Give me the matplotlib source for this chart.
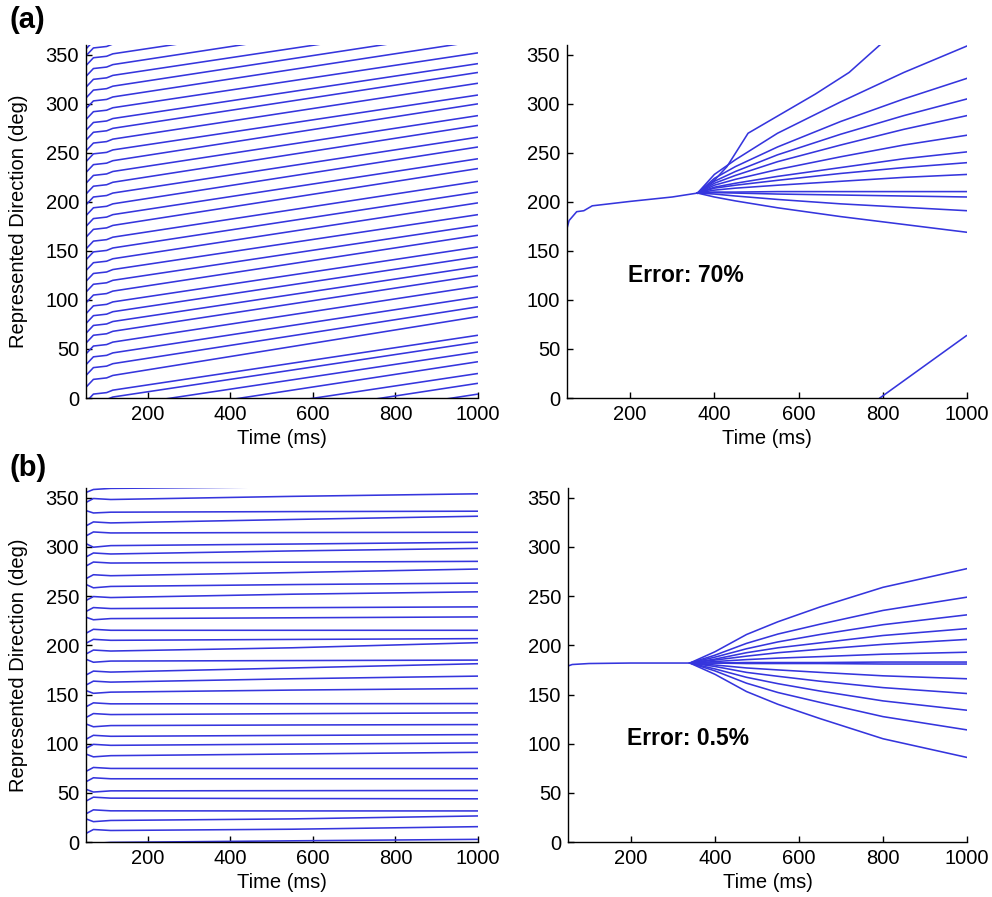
import numpy as np
import matplotlib
matplotlib.use("Agg")
import matplotlib.pyplot as plt

plt.rcParams['font.family'] = ['Liberation Sans', 'DejaVu Sans']

LINE_COLOR = '#3535dd'

# ---------------- Panel (a), left: drifting bump positions (unwrapped deg) ----------------
TL_TIMES = [50, 68, 100, 115, 1000]
TL_LINES = [
    [-4, 4, 5.5, 8, 64], [11, 19, 20.5, 23, 83], [23, 31, 32.5, 35, 93],
    [34, 42, 43.5, 46, 103], [45, 53, 54.5, 57, 114], [56, 64, 65.5, 68, 125],
    [66, 74, 75.5, 78, 134], [76, 84, 85.5, 88, 144], [86, 94, 95.5, 98, 154],
    [97, 105, 106.5, 109, 166], [108, 116, 117.5, 120, 176], [119, 127, 128.5, 131, 187],
    [130, 138, 139.5, 142, 199], [141, 149, 150.5, 153, 210], [152, 160, 161.5, 164, 221],
    [164, 172, 173.5, 176, 234], [175, 183, 184.5, 187, 244], [186, 194, 195.5, 198, 256],
    [197, 205, 206.5, 209, 266], [208, 216, 217.5, 220, 278], [219, 227, 228.5, 231, 288],
    [230, 238, 239.5, 242, 300], [241, 249, 250.5, 253, 309], [252, 260, 261.5, 264, 321],
    [263, 271, 272.5, 275, 332], [273, 281, 282.5, 285, 341], [284, 292, 293.5, 296, 352],
    [295, 303, 304.5, 307, 364], [306, 314, 315.5, 318, 375], [317, 325, 326.5, 329, 385],
    [328, 336, 337.5, 340, 397], [339, 347, 348.5, 351, 407], [349, 357, 358.5, 361, 417],
]

# ---------------- Panel (a), right: trunk then branches ----------------
TR_TRUNK_T = [50, 55, 73, 90, 110, 200, 300, 360]
TR_TRUNK_Y = [173, 181, 190, 191, 196, 200.5, 205, 209]
TR_TOP_T = [360, 400, 430, 480, 520, 640, 720, 793, 1000]
TR_TOP_Y = [209, 222, 236, 270, 280, 310, 332, 360, 424]
TR_BR_T = [360, 400, 450, 550, 700, 850, 1000]
TR_BRANCHES = [
    [209, 228, 243, 270, 302, 332, 359],
    [209, 224, 236, 256, 282, 305, 326],
    [209, 221, 231, 248, 269, 288, 305],
    [209, 219, 227, 241, 258, 274, 288],
    [209, 217, 223, 233, 246, 258, 268],
    [209, 215, 219, 226, 235, 244, 251],
    [209, 214, 217, 222, 229, 235, 240],
    [209, 212, 214, 217, 221, 225, 228],
    [209, 210, 210, 210.5, 210.5, 210.5, 210.5],
    [209, 209.5, 209, 208, 207, 206, 205],
    [209, 208, 206, 202.5, 198, 194.5, 191],
    [209, 205, 201, 194, 185, 177, 169],
]
TR_TEXT = "Error: 70%"

# ---------------- Panel (b), left: nearly stationary bumps ----------------
BL_TIMES = [50, 68, 110, 550, 1000]
BL_LINES = [
    [355.5, 358.5, 359.6, 361.2, 362.7],
    [345.3, 349.3, 348.3, 351.5, 354.1],
    [337.0, 334.6, 335.4, 336.0, 336.4],
    [321.5, 325.5, 324.5, 328.0, 331.3],
    [311.3, 315.3, 314.3, 314.7, 315.0],
    [303.4, 299.8, 301.4, 303.0, 304.8],
    [289.9, 293.9, 292.9, 296.0, 298.6],
    [280.7, 284.7, 283.7, 284.6, 285.4],
    [267.8, 271.8, 270.8, 274.0, 277.6],
    [261.9, 258.5, 259.9, 261.8, 263.3],
    [245.6, 249.6, 248.6, 252.0, 254.4],
    [234.4, 238.4, 237.4, 238.3, 239.1],
    [228.6, 226.0, 227.2, 228.0, 228.9],
    [212.3, 216.3, 215.3, 215.3, 215.3],
    [202.1, 206.1, 205.1, 206.0, 206.8],
    [191.2, 195.2, 194.2, 197.5, 202.7],
    [185.8, 182.8, 184.0, 184.5, 185.0],
    [169.8, 173.8, 172.8, 177.0, 181.3],
    [159.6, 163.6, 162.6, 166.0, 168.7],
    [154.0, 151.2, 152.4, 154.5, 156.1],
    [137.5, 141.5, 140.5, 140.6, 140.8],
    [126.6, 130.6, 129.6, 130.5, 131.3],
    [120.0, 117.2, 118.4, 119.0, 119.4],
    [104.5, 108.5, 107.5, 108.4, 109.2],
    [95.3, 99.3, 98.3, 99.5, 100.7],
    [89.4, 86.6, 87.8, 89.5, 91.2],
    [71.8, 75.8, 74.8, 74.8, 74.8],
    [61.3, 65.3, 64.3, 64.3, 64.3],
    [53.6, 50.8, 52.0, 52.2, 52.4],
    [41.6, 45.6, 44.6, 44.2, 43.9],
    [28.7, 32.7, 31.7, 31.6, 31.6],
    [23.5, 20.7, 21.9, 23.5, 26.5],
    [8.7, 12.7, 11.7, 13.0, 15.6],
]

# ---------------- Panel (b), right ----------------
BR_TRUNK_T = [50, 60, 100, 200, 340]
BR_TRUNK_Y = [179, 180.5, 181.5, 182, 182]
BR_BR_T = [340, 400, 475, 550, 650, 800, 1000]
BR_BRANCHES = [
    [182, 193.5, 211, 224, 239, 259, 278],
    [182, 190, 202, 211.5, 221.5, 235.5, 249],
    [182, 188, 196.5, 203.5, 211, 221, 231],
    [182, 186, 192.5, 197.5, 202.5, 210, 217],
    [182, 185, 189, 192.5, 196, 201, 206],
    [182, 183.5, 185.5, 187, 188.5, 191, 193],
    [182, 182, 182.5, 182.5, 182.5, 183, 183],
    [182, 182, 181.5, 181.5, 181.5, 181, 181],
    [182, 180, 177, 175, 172.5, 169, 166],
    [182, 178.5, 172.5, 168.5, 163.5, 157, 151],
    [182, 176, 167.5, 161, 153.5, 143.5, 134],
    [182, 174, 161.5, 152, 142, 127.5, 114],
    [182, 170.5, 153, 140, 125.5, 105, 86],
]
BR_TEXT = "Error: 0.5%"

X_TICKS = [200, 400, 600, 800, 1000]
Y_TICKS = [0, 50, 100, 150, 200, 250, 300, 350]
XLIM = (50, 1000)
YLIM = (0, 360)
XLABEL = "Time (ms)"
YLABEL = "Represented Direction (deg)"

FS = 14.5
fig = plt.figure(figsize=(9.92, 8.97), dpi=100)

H, W = 897.0, 992.0
ax_tl = fig.add_axes([86 / W, 1 - 398 / H, 392 / W, 353 / H])
ax_tr = fig.add_axes([567 / W, 1 - 398 / H, 400 / W, 353 / H])
ax_bl = fig.add_axes([86 / W, 1 - 842 / H, 392 / W, 354 / H])
ax_br = fig.add_axes([568 / W, 1 - 842 / H, 399 / W, 354 / H])


def wrapped_plot(ax, t, y):
    y = np.asarray(y, dtype=float)
    for off in (-360, 0, 360):
        ax.plot(t, y + off, color=LINE_COLOR, lw=1.15, solid_capstyle='butt')


for row in TL_LINES:
    wrapped_plot(ax_tl, TL_TIMES, row)

ax_tr.plot(TR_TRUNK_T, TR_TRUNK_Y, color=LINE_COLOR, lw=1.15)
wrapped_plot(ax_tr, TR_TOP_T, TR_TOP_Y)
for row in TR_BRANCHES:
    ax_tr.plot(TR_BR_T, row, color=LINE_COLOR, lw=1.15)
ax_tr.text(195, 125, TR_TEXT, fontsize=16.5, fontweight='bold', va='center', ha='left')

for row in BL_LINES:
    wrapped_plot(ax_bl, BL_TIMES, row)

ax_br.plot(BR_TRUNK_T, BR_TRUNK_Y, color=LINE_COLOR, lw=1.15)
for row in BR_BRANCHES:
    ax_br.plot(BR_BR_T, row, color=LINE_COLOR, lw=1.15)
ax_br.text(190, 105, BR_TEXT, fontsize=16.5, fontweight='bold', va='center', ha='left')

for ax in (ax_tl, ax_tr, ax_bl, ax_br):
    ax.set_xlim(*XLIM)
    ax.set_ylim(*YLIM)
    ax.set_xticks(X_TICKS)
    ax.set_yticks(Y_TICKS)
    ax.spines['top'].set_visible(False)
    ax.spines['right'].set_visible(False)
    ax.spines['left'].set_linewidth(1.0)
    ax.spines['bottom'].set_linewidth(1.0)
    ax.tick_params(direction='in', length=4, width=1.0, labelsize=FS, pad=5)
    ax.set_xlabel(XLABEL, fontsize=FS)
    ax.xaxis.set_label_coords(0.5, -0.088)

for ax in (ax_tl, ax_bl):
    ax.set_ylabel(YLABEL, fontsize=FS)
    ax.yaxis.set_label_coords(-0.147, 0.5)

fig.text(0.010, 1 - 20 / H, "(a)", fontsize=21, fontweight='bold', va='center', ha='left')
fig.text(0.010, 1 - 468 / H, "(b)", fontsize=21, fontweight='bold', va='center', ha='left')

fig.savefig("out.png", dpi=100)
